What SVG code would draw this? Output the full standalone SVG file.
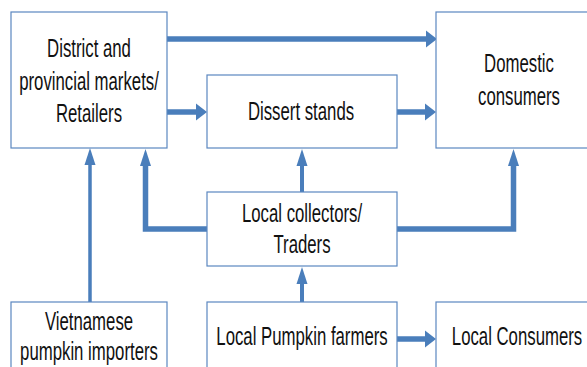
<svg xmlns="http://www.w3.org/2000/svg" width="587" height="367" viewBox="0 0 587 367">
  <style>
    .box { fill: #ffffff; stroke: #5b87c0; stroke-width: 1.2; }
    .lbl { font-family: "Liberation Sans", Arial, sans-serif; font-size: 26px; fill: #111111; text-anchor: middle; }
    .flow { fill: none; stroke: #4a7ebb; stroke-linejoin: miter; }
    .h { stroke-width: 5.5; }
    .v { stroke-width: 4; }
    .thin { stroke-width: 3.5; }
  </style>
  <defs>
    <!-- horizontal heads: short and wide -->
    <marker id="headH" markerUnits="userSpaceOnUse" viewBox="0 -9 11 18" refX="0" refY="0" markerWidth="11" markerHeight="18" orient="auto">
      <path d="M0,-8.5 L11,0 L0,8.5 Z" fill="#4a7ebb"/>
    </marker>
    <!-- vertical heads: long and narrow -->
    <marker id="headV" markerUnits="userSpaceOnUse" viewBox="0 -6 17 12" refX="0" refY="0" markerWidth="17" markerHeight="12" orient="auto">
      <path d="M0,-5.5 L17,0 L0,5.5 Z" fill="#4a7ebb"/>
    </marker>
  </defs>

  <g id="connectors">
    <!-- markets to domestic consumers -->
    <path class="flow h" d="M167,39 H426" marker-end="url(#headH)"/>
    <!-- markets to dissert stands -->
    <path class="flow h" d="M167,112 H196" marker-end="url(#headH)"/>
    <!-- dissert stands to domestic consumers -->
    <path class="flow h" d="M397,112 H425" marker-end="url(#headH)"/>
    <!-- importers to markets -->
    <path class="flow thin" d="M90,302 V165" marker-end="url(#headV)"/>
    <!-- collectors to markets -->
    <path class="flow h" d="M207,229 H145.5 V166" marker-end="url(#headV)"/>
    <!-- collectors to dissert stands -->
    <path class="flow v" d="M302,192 V166" marker-end="url(#headV)"/>
    <!-- collectors to domestic consumers -->
    <path class="flow h" d="M397,229 H513.5 V166" marker-end="url(#headV)"/>
    <!-- farmers to collectors -->
    <path class="flow v" d="M302,302 V284" marker-end="url(#headV)"/>
    <!-- farmers to local consumers -->
    <path class="flow h" d="M397,339 H425" marker-end="url(#headH)"/>
  </g>

  <g id="markets">
    <rect class="box" x="11" y="12" width="156" height="136"/>
    <text class="lbl" transform="translate(89,57) scale(0.645,1)">District and</text>
    <text class="lbl" transform="translate(89,89.5) scale(0.645,1)">provincial markets/</text>
    <text class="lbl" transform="translate(89,122) scale(0.645,1)">Retailers</text>
  </g>

  <g id="dissert-stands">
    <rect class="box" x="207" y="75" width="190" height="73"/>
    <text class="lbl" transform="translate(301,120) scale(0.645,1)">Dissert stands</text>
  </g>

  <g id="domestic-consumers">
    <rect class="box" x="436" y="12" width="170" height="136"/>
    <text class="lbl" transform="translate(519,72) scale(0.645,1)">Domestic</text>
    <text class="lbl" transform="translate(519,105) scale(0.645,1)">consumers</text>
  </g>

  <g id="collectors">
    <rect class="box" x="207" y="192" width="190" height="74"/>
    <text class="lbl" transform="translate(302,222) scale(0.645,1)">Local collectors/</text>
    <text class="lbl" transform="translate(302,253) scale(0.645,1)">Traders</text>
  </g>

  <g id="importers">
    <rect class="box" x="11" y="302" width="156" height="80"/>
    <text class="lbl" transform="translate(89,330) scale(0.645,1)">Vietnamese</text>
    <text class="lbl" transform="translate(89,360) scale(0.645,1)">pumpkin importers</text>
  </g>

  <g id="farmers">
    <rect class="box" x="207" y="302" width="190" height="80"/>
    <text class="lbl" transform="translate(302,345) scale(0.645,1)">Local Pumpkin farmers</text>
  </g>

  <g id="local-consumers">
    <rect class="box" x="436" y="302" width="170" height="80"/>
    <text class="lbl" transform="translate(517,345) scale(0.645,1)">Local Consumers</text>
  </g>
</svg>
